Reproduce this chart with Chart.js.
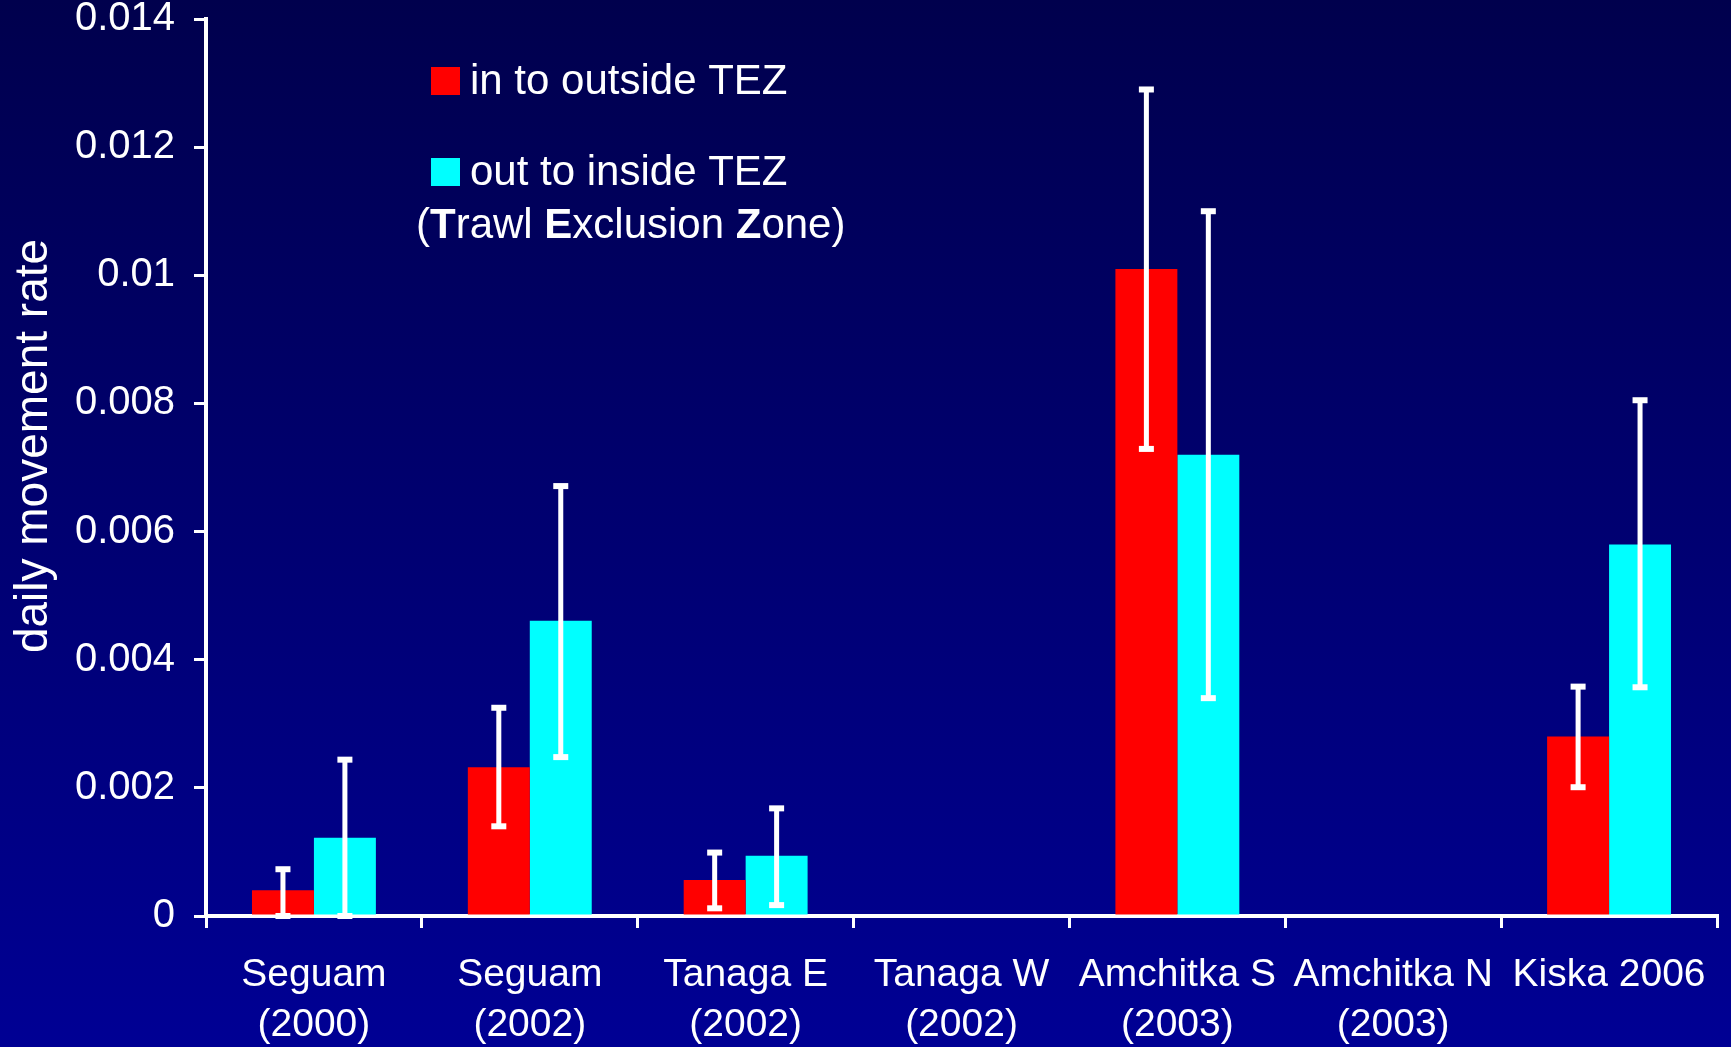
<!DOCTYPE html>
<html>
<head>
<meta charset="utf-8">
<script src="https://cdn.jsdelivr.net/npm/chart.js@4/dist/chart.umd.min.js"></script>
<style>
    html, body { margin: 0; padding: 0; }
    body { width: 1731px; height: 1047px; overflow: hidden; background: linear-gradient(to bottom, #00004d, #000094); }
    #wrap { position: relative; width: 1731px; height: 1047px; }
</style>
</head>
<body>
<div id="wrap"><canvas id="movementChart"></canvas></div>
<script>
const sites = [
    ['Seguam', '(2000)'],
    ['Seguam', '(2002)'],
    ['Tanaga E', '(2002)'],
    ['Tanaga W', '(2002)'],
    ['Amchitka S', '(2003)'],
    ['Amchitka N', '(2003)'],
    'Kiska 2006'
];
const inToOutside = [0.0004, 0.00232, 0.00056, null, 0.0101, null, 0.0028];
const outToInside = [0.00122, 0.00461, 0.00094, null, 0.0072, null, 0.0058];
const inHigh = [0.00073, 0.00325, 0.00099, null, 0.0129, null, 0.00358];
const inLow = [0, 0.0014, 0.00012, null, 0.00729, null, 0.00201];
const outHigh = [0.00244, 0.00671, 0.00168, null, 0.011, null, 0.00805];
const outLow = [0, 0.00248, 0.00017, null, 0.0034, null, 0.00357];
const yTicks = [0, 0.002, 0.004, 0.006, 0.008, 0.01, 0.012, 0.014];
const seriesNames = ['in to outside TEZ', 'out to inside TEZ'];
const noteParts = [['(', false], ['T', true], ['rawl ', false], ['E', true], ['xclusion ', false], ['Z', true], ['one)', false]];
const yTitle = 'daily movement rate';

const font = "'Liberation Sans', Arial, sans-serif";
Chart.defaults.font.family = font;
Chart.defaults.color = '#ffffff';

// white error bars with flat caps
const errorBars = {
    id: 'errorBars',
    afterDatasetsDraw(chart) {
        const ctx = chart.ctx;
        const y = chart.scales.y;
        ctx.save();
        ctx.fillStyle = '#ffffff';
        chart.data.datasets.forEach((ds, i) => {
            const meta = chart.getDatasetMeta(i);
            meta.data.forEach((bar, j) => {
                if (ds.errHigh[j] == null) return;
                const top = y.getPixelForValue(ds.errHigh[j]);
                const bottom = y.getPixelForValue(ds.errLow[j]);
                ctx.fillRect(bar.x - 2.5, top, 5, bottom - top);
                ctx.fillRect(bar.x - 7.5, top - 3, 15, 6);
                ctx.fillRect(bar.x - 7.5, bottom - 3, 15, 6);
            });
        });
        ctx.restore();
    }
};

// legend boxes, the TEZ note and the y title
const legendNote = {
    id: 'legendNote',
    afterDraw(chart) {
        const ctx = chart.ctx;
        ctx.save();
        ctx.textBaseline = 'middle';
        ctx.fillStyle = '#ffffff';
        const rows = [81, 172];
        chart.data.datasets.forEach((ds, i) => {
            ctx.fillStyle = ds.backgroundColor;
            ctx.fillRect(431, rows[i] - 14, 29, 28);
            ctx.fillStyle = '#ffffff';
            ctx.font = '42px ' + font;
            ctx.fillText(ds.label, 470, rows[i] + 1);
        });
        let x = 416;
        noteParts.forEach(([txt, bold]) => {
            ctx.font = (bold ? 'bold ' : '') + '42px ' + font;
            ctx.fillText(txt, x, 226);
            x += ctx.measureText(txt).width;
        });

        ctx.translate(34, 446);
        ctx.rotate(-Math.PI / 2);
        ctx.textAlign = 'center';
        ctx.font = '46px ' + font;
        ctx.fillText(yTitle, 0, 0);
        ctx.restore();
    }
};

new Chart(document.getElementById('movementChart'), {
    type: 'bar',
    data: {
        labels: sites,
        datasets: [
            { label: seriesNames[0], data: inToOutside, backgroundColor: '#ff0000', errHigh: inHigh, errLow: inLow },
            { label: seriesNames[1], data: outToInside, backgroundColor: '#00ffff', errHigh: outHigh, errLow: outLow }
        ]
    },
    options: {
        responsive: true,
        maintainAspectRatio: false,
        animation: false,
        categoryPercentage: 0.574,
        barPercentage: 1,
        layout: { padding: { top: 19, right: 14, left: 0, bottom: 0 } },
        plugins: {
            legend: { display: false },
            tooltip: { enabled: false }
        },
        scales: {
            x: {
                grid: { offset: true, drawOnChartArea: false, drawTicks: true, tickLength: 12, color: '#ffffff', lineWidth: 3 },
                border: { color: '#ffffff', width: 4 },
                ticks: { autoSkip: false, maxRotation: 0, padding: 22, color: '#ffffff', font: { size: 39, lineHeight: 1.28 } },
                afterFit: s => { s.height = 131; s.paddingLeft = 0; s.paddingRight = 0; }
            },
            y: {
                min: 0,
                max: 0.014,
                afterBuildTicks: s => { s.ticks = yTicks.map(v => ({ value: v })); },
                grid: { drawOnChartArea: false, drawTicks: true, tickLength: 12, color: '#ffffff', lineWidth: 3 },
                border: { color: '#ffffff', width: 4 },
                ticks: {
                    padding: 19,
                    color: '#ffffff',
                    font: { size: 40 },
                    callback: v => v === 0 ? '0' : String(+v.toFixed(3))
                },
                afterFit: s => { s.width = 206; s.paddingTop = 0; s.paddingBottom = 0; }
            }
        }
    },
    plugins: [errorBars, legendNote]
});
</script>
</body>
</html>
